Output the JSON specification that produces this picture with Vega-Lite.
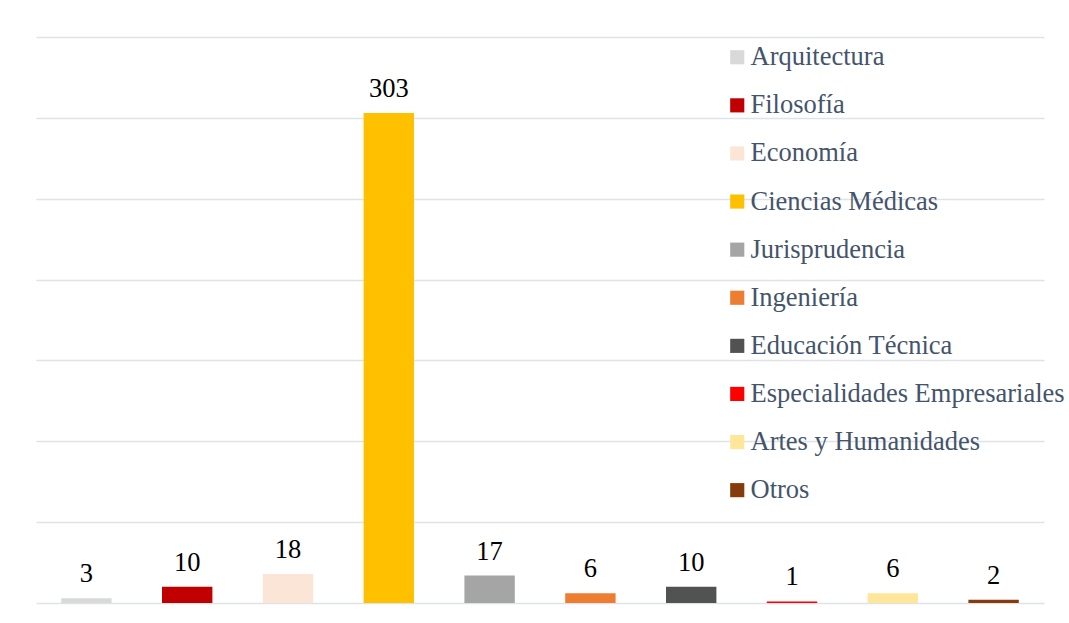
{
  "$schema": "https://vega.github.io/schema/vega-lite/v6.json",
  "width": 1008,
  "height": 566,
  "autosize": {"type": "none"},
  "padding": {"left": 36, "top": 37, "right": 25, "bottom": 20},
  "background": "white",
  "config": {
    "view": {"stroke": null},
    "font": "Liberation Serif"
  },
  "data": {
    "values": [
      {"area": "Arquitectura", "n": 3},
      {"area": "Filosofía", "n": 10},
      {"area": "Economía", "n": 18},
      {"area": "Ciencias Médicas", "n": 303},
      {"area": "Jurisprudencia", "n": 17},
      {"area": "Ingeniería", "n": 6},
      {"area": "Educación Técnica", "n": 10},
      {"area": "Especialidades Empresariales", "n": 1},
      {"area": "Artes y Humanidades", "n": 6},
      {"area": "Otros", "n": 2}
    ]
  },
  "encoding": {
    "x": {"field": "area", "type": "nominal", "sort": null, "axis": null,
          "scale": {"paddingInner": 0.5, "paddingOuter": 0.25}},
    "y": {"field": "n", "type": "quantitative",
          "scale": {"domain": [0, 350], "nice": false},
          "axis": {"values": [0, 50, 100, 150, 200, 250, 300, 350], "labels": false, "ticks": false,
                   "domain": false, "grid": true, "gridColor": "#DFE2E7", "gridWidth": 1.5, "title": null}}
  },
  "layer": [
    {
      "mark": {"type": "bar"},
      "encoding": {
        "color": {
          "field": "area", "type": "nominal", "sort": null,
          "scale": {
            "domain": ["Arquitectura", "Filosofía", "Economía", "Ciencias Médicas", "Jurisprudencia", "Ingeniería", "Educación Técnica", "Especialidades Empresariales", "Artes y Humanidades", "Otros"],
            "range": ["#D9D9D9", "#C00000", "#FBE5D6", "#FFC000", "#A5A5A5", "#ED7D31", "#525252", "#FF0000", "#FFE699", "#843C0C"]
          },
          "legend": {
            "orient": "none", "legendX": 688, "legendY": 7, "title": null, "padding": 0,
            "symbolType": "square", "symbolSize": 200, "symbolStrokeWidth": 0,
            "labelFont": "Liberation Serif", "labelFontSize": 26.5, "labelColor": "#44546A",
            "labelOffset": 0, "rowPadding": 21.1, "labelLimit": 400
          }
        }
      }
    },
    {
      "mark": {"type": "text", "baseline": "alphabetic", "dy": -16, "fontSize": 26.5, "color": "#000000", "font": "Liberation Serif"},
      "encoding": {"text": {"field": "n", "type": "quantitative"}}
    }
  ]
}
